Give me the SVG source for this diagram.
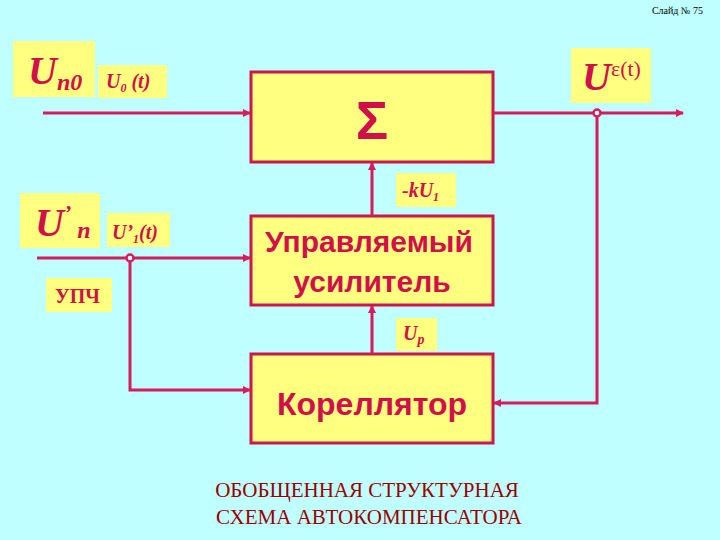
<svg xmlns="http://www.w3.org/2000/svg" width="720" height="540" viewBox="0 0 720 540">
<defs>
<style>
.bx{fill:#ffff80;stroke:#cc1650;stroke-width:3}
.lb{fill:#ffff80}
.ln{stroke:#d81b5a;stroke-width:3;fill:none}
.t{font-family:"Liberation Serif",serif;font-weight:bold;font-style:italic;fill:#d0104a}
.bt{font-family:"Liberation Sans",sans-serif;font-weight:bold;fill:#d0104a;text-anchor:middle}
</style>
<marker id="a" markerWidth="8" markerHeight="8" refX="7" refY="4" orient="auto" markerUnits="userSpaceOnUse"><path d="M0,0 L8,4 L0,8 Z" fill="#d81b5a"/></marker>
</defs>
<rect width="720" height="540" fill="#c0ffff"/>
<text x="703" y="14" font-family="Liberation Serif,serif" font-size="10" text-anchor="end" fill="#000">Слайд № 75</text>
<g id="sum"><rect class="bx" x="251" y="72" width="242" height="90"/><text class="bt" x="372" y="139" font-size="54">Σ</text></g>
<g id="amp"><rect class="bx" x="251" y="216" width="242" height="89"/><text class="bt" x="369" y="252" font-size="30">Управляемый</text><text class="bt" x="372" y="292" font-size="30">усилитель</text></g>
<g id="corr"><rect class="bx" x="251" y="354" width="242" height="89"/><text class="bt" x="372" y="415" font-size="32">Кореллятор</text></g>
<g id="labels">
<rect class="lb" x="13" y="41" width="82" height="56"/><text class="t" x="28" y="84" font-size="40">U<tspan font-size="24" dy="6">n0</tspan></text>
<rect class="lb" x="98" y="65" width="69" height="33"/><text class="t" x="106" y="88" font-size="20">U<tspan font-size="12" dy="4">0</tspan><tspan dy="-4"> (t)</tspan></text>
<rect class="lb" x="571" y="48" width="80" height="55"/><text class="t" x="582" y="90" font-size="40">U<tspan font-size="22" font-style="normal" font-weight="normal" dy="-14">ε(t)</tspan></text>
<rect class="lb" x="20" y="193" width="80" height="55"/><text class="t" x="35" y="236" font-size="40">U<tspan font-size="22" dy="-16">’</tspan><tspan font-size="24" dx="6" dy="18">n</tspan></text>
<rect class="lb" x="107" y="213" width="63" height="34"/><text class="t" x="112" y="239" font-size="20">U’<tspan font-size="12" dy="4">1</tspan><tspan dy="-4">(t)</tspan></text>
<rect class="lb" x="46" y="278" width="66" height="34"/><text x="55" y="303" font-family="Liberation Serif,serif" font-weight="bold" font-size="20" fill="#d0104a">УПЧ</text>
<rect class="lb" x="396" y="173" width="60" height="34"/><text class="t" x="402" y="197" font-size="20">-kU<tspan font-size="12" dy="4">1</tspan></text>
<rect class="lb" x="396" y="318" width="41" height="33"/><text class="t" x="403" y="340" font-size="20">U<tspan font-size="14" dy="4">p</tspan></text>
</g>
<g id="connectors">
<path class="ln" d="M43,113 H250" marker-end="url(#a)"/>
<path class="ln" d="M493,113 H683" marker-end="url(#a)"/>
<path class="ln" d="M597,113 V403 H494" marker-end="url(#a)"/>
<path class="ln" d="M37,258 H250" marker-end="url(#a)"/>
<path class="ln" d="M130,258 V390 H250" marker-end="url(#a)"/>
<path class="ln" d="M372,216 V163" marker-end="url(#a)"/>
<path class="ln" d="M372,354 V306" marker-end="url(#a)"/>
<circle cx="597" cy="113" r="3.5" fill="#fff" stroke="#d81b5a" stroke-width="2.5"/>
<circle cx="130" cy="258" r="3.5" fill="#fff" stroke="#d81b5a" stroke-width="2.5"/>
</g>
<g id="caption" font-family="Liberation Serif,serif" font-size="21" fill="#990000" text-anchor="middle">
<text x="367" y="497">ОБОБЩЕННАЯ СТРУКТУРНАЯ</text>
<text x="369" y="524">СХЕМА АВТОКОМПЕНСАТОРА</text>
</g>
</svg>
